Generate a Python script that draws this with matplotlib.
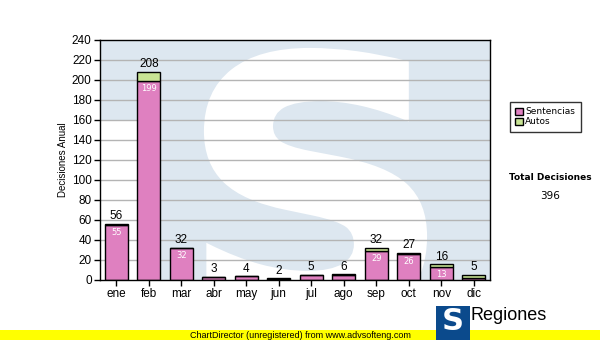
import numpy as np
import matplotlib.pyplot as plt
from matplotlib.patches import Rectangle, PathPatch
from matplotlib.textpath import TextPath
from matplotlib.font_manager import FontProperties
from matplotlib.transforms import Affine2D

#------------- Data -----------------#
meses = ['ene', 'feb', 'mar', 'abr', 'may', 'jun', 'jul', 'ago', 'sep', 'oct', 'nov', 'dic']
sentencias = np.array([55, 199, 32, 3, 4, 1, 5, 5, 29, 26, 13, 2])
autos = np.array([1, 9, 0, 0, 0, 1, 0, 1, 3, 1, 3, 3])
totales = sentencias + autos

pink = '#df80c0'
green = '#c8e494'
W, H = 600, 340

def fx(px):
    return px / W

def fy(py):
    return 1 - py / H

fig = plt.figure(figsize=(6, 3.4), dpi=100)
ax = fig.add_axes([fx(100), fy(280), 390 / W, 240 / H])

#---------- background with watermark ----------#
ax.set_xlim(-0.5, 11.5)
ax.set_ylim(0, 240)
ax.add_patch(Rectangle((-0.5, 0), 12, 240, facecolor='#dde7f0', edgecolor='none', zorder=0))
ax.add_patch(Rectangle((-0.5, 0), 1.85, 160, facecolor='white', edgecolor='none', zorder=0))

# big white "S" scaled into a box (pixel box ~205..426 x, 50..322 y), clipped by the axes
sp = TextPath((0, 0), 'S', size=1, prop=FontProperties(family='DejaVu Sans', weight='bold'))
ext = sp.get_extents()
x0, x1 = (206 - 100) / 32.5 - 0.5, (425 - 100) / 32.5 - 0.5
y0, y1 = 280 - 322, 280 - 50
tr = Affine2D().translate(-ext.x0, -ext.y0).scale((x1 - x0) / ext.width, (y1 - y0) / ext.height).translate(x0, y0)
ax.add_patch(PathPatch(tr.transform_path(sp), facecolor='white', edgecolor='white', lw=3, zorder=0.5))

for g in range(20, 240, 20):
    ax.axhline(g, color='#b4b4b4', lw=1, zorder=1)

#---------- bars ----------#
x = np.arange(len(meses))
ax.bar(x, sentencias, width=0.7, color=pink, edgecolor='black', lw=1, zorder=2)
ax.bar(x, autos, width=0.7, bottom=sentencias, color=green, edgecolor='black', lw=1, zorder=2)

for i in range(len(meses)):
    ax.text(x[i], totales[i] + 1.5, str(totales[i]), ha='center', va='bottom',
            fontsize=8.5, family='Liberation Sans', zorder=3)
    if sentencias[i] >= 10:
        ax.text(x[i], sentencias[i] - 3, str(sentencias[i]), ha='center', va='top',
                fontsize=6, color='white', family='DejaVu Sans', zorder=3)

ax.set_yticks(range(0, 241, 20))
ax.set_xticks(x)
ax.set_xticklabels(meses)
ax.tick_params(axis='both', direction='out', length=4, width=1, labelsize=8.5, pad=2)
for lab in ax.get_xticklabels() + ax.get_yticklabels():
    lab.set_family('Liberation Sans')
for s in ax.spines.values():
    s.set_color('black')
    s.set_linewidth(1)
    s.set_zorder(4)
ax.set_ylabel('Decisiones Anual', fontsize=7, family='Liberation Sans')
ax.yaxis.set_label_coords(-32 / 390, 0.5)

#---------- legend ----------#
h1 = Rectangle((0, 0), 1, 1, facecolor=pink, edgecolor='black', lw=1)
h2 = Rectangle((0, 0), 1, 1, facecolor=green, edgecolor='black', lw=1)
leg = fig.legend([h1, h2], ['Sentencias', 'Autos'], loc='upper left',
                 bbox_to_anchor=(fx(510), fy(102)), fontsize=6.5, frameon=True,
                 fancybox=False, edgecolor='black', handlelength=0.8, handleheight=0.8,
                 handletextpad=0.3, labelspacing=0.1, borderpad=0.6, borderaxespad=0)
leg.get_frame().set_linewidth(1)

fig.text(fx(550), fy(178), 'Total Decisiones', ha='center', va='center',
         fontsize=6.5, fontweight='bold')
fig.text(fx(550), fy(196), str(totales.sum()), ha='center', va='center', fontsize=7.5)

#---------- footer ----------#
fig.patches.append(Rectangle((0, 0), 1, fy(330), transform=fig.transFigure,
                             facecolor='#ffff00', edgecolor='none', zorder=0))
fig.text(fx(300), fy(335), 'ChartDirector (unregistered) from www.advsofteng.com',
         ha='center', va='center', fontsize=6.5, family='Liberation Sans')
fig.patches.append(Rectangle((fx(436), fy(340)), 34 / W, 34 / H, transform=fig.transFigure,
                             facecolor='#0b4a8c', edgecolor='none', zorder=2))
fig.text(fx(453), fy(322), 'S', ha='center', va='center', fontsize=22,
         fontweight='bold', color='white', zorder=3)
fig.text(fx(470), fy(316), 'Regiones', ha='left', va='center', fontsize=13,
         family='Liberation Sans')

plt.savefig('out.png', dpi=100)
